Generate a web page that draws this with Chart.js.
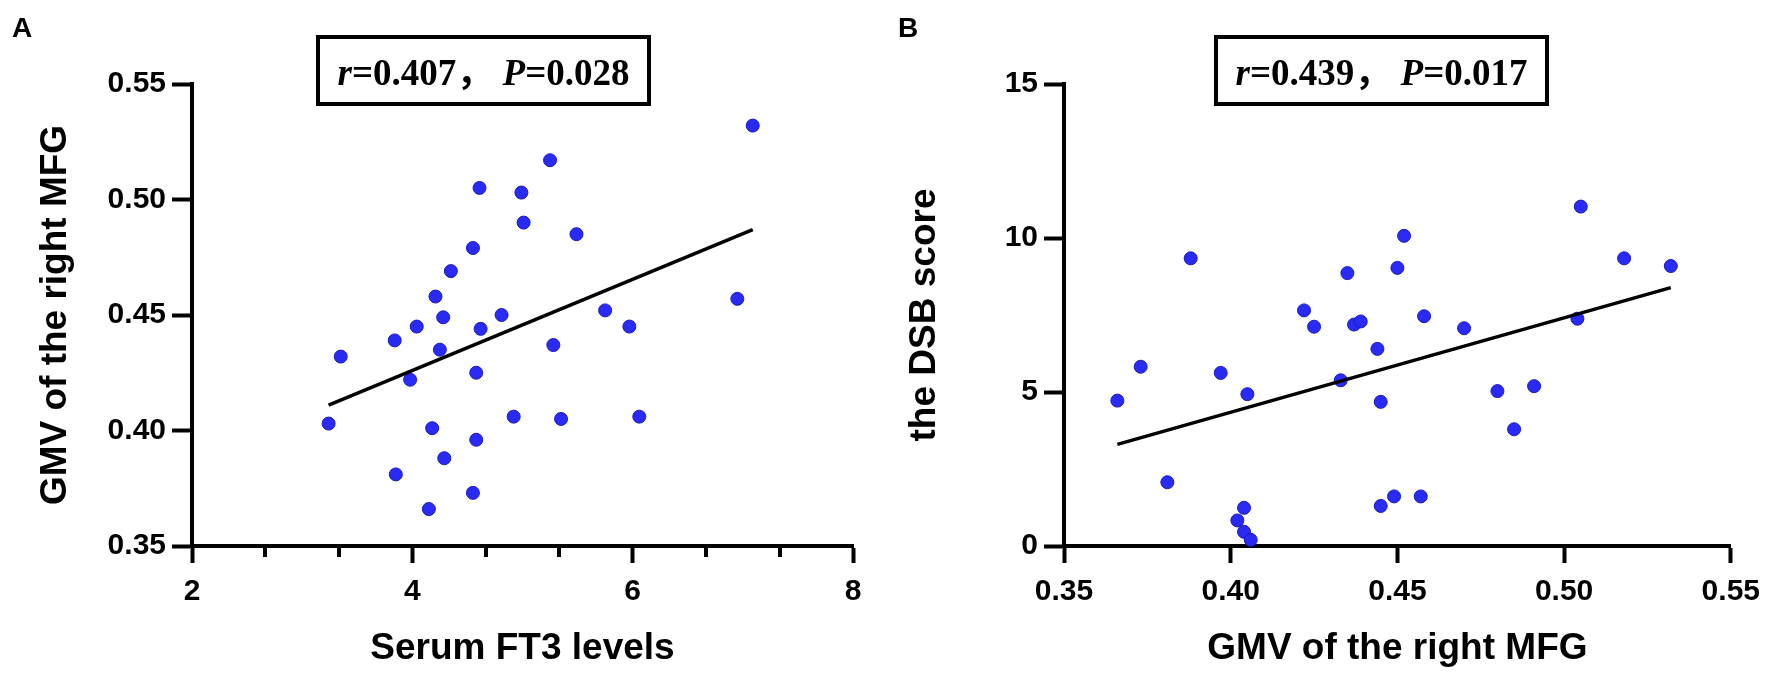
<!DOCTYPE html>
<html><head><meta charset="utf-8">
<script src="https://cdn.jsdelivr.net/npm/chart.js@4.4.1/dist/chart.umd.min.js"></script>
<style>
html,body{margin:0;padding:0;background:#fff;width:1775px;height:679px;overflow:hidden;}
canvas{position:absolute;top:0;}
#ca{left:0px}
#cb{left:880px}
</style></head><body>
<canvas id="ca" width="873" height="679"></canvas>
<canvas id="cb" width="891" height="679"></canvas>
<script>
// ---------- Panel A data ----------
const ft3Levels = [3.24,3.35,3.84,3.85,3.98,4.04,4.18,4.15,4.21,4.28,4.25,4.29,4.35,4.55,4.55,4.58,4.58,4.61,4.62,4.81,4.92,4.99,5.01,5.25,5.28,5.35,5.49,5.75,5.97,6.06,6.95,7.09];
const gmvRightMFG_A = [0.403,0.432,0.439,0.381,0.422,0.445,0.401,0.366,0.458,0.449,0.435,0.388,0.469,0.479,0.373,0.425,0.396,0.505,0.444,0.450,0.406,0.503,0.490,0.517,0.437,0.405,0.485,0.452,0.445,0.406,0.457,0.532];
const fitA_x = [3.24, 7.09];
const fitA_y = [0.411, 0.487];
const xTicksA = [2, 4, 6, 8];
const xMinorTicksA = [2.667, 3.333, 4.667, 5.333, 6.667, 7.333];
const yTicksA = [0.35, 0.40, 0.45, 0.50, 0.55];

// ---------- Panel B data ----------
const gmvRightMFG_B = [0.366,0.373,0.381,0.388,0.397,0.405,0.404,0.402,0.404,0.406,0.422,0.425,0.433,0.435,0.437,0.439,0.444,0.445,0.445,0.449,0.450,0.452,0.457,0.458,0.470,0.480,0.485,0.491,0.504,0.505,0.518,0.532];
const dsbScore = [4.72,5.82,2.07,9.34,5.62,4.93,1.24,0.83,0.46,0.20,7.65,7.12,5.38,8.86,7.19,7.29,6.40,1.30,4.68,1.61,9.03,10.07,1.61,7.46,7.07,5.03,3.79,5.19,7.38,11.02,9.34,9.09];
const fitB_x = [0.366, 0.532];
const fitB_y = [3.30, 8.39];
const xTicksB = [0.35, 0.40, 0.45, 0.50, 0.55];
const yTicksB = [0, 5, 10, 15];

const statA = {r: '0.407', p: '0.028'};
const statB = {r: '0.439', p: '0.017'};

const SANS = '"Liberation Sans", Arial, Helvetica, sans-serif';
const SERIF = '"Liberation Serif", "Times New Roman", "Noto Sans CJK SC", serif';

const pts = (xs, ys) => xs.map((x, i) => ({x, y: ys[i]}));

const decoPlugin = {
  id: 'deco',
  afterDraw(chart, args, o) {
    const ctx = chart.ctx;
    const xs = chart.scales.x, area = chart.chartArea;
    ctx.save();
    if (o.minor) {
      ctx.strokeStyle = '#000'; ctx.lineWidth = 4;
      o.minor.forEach(v => {
        const px = Math.round(xs.getPixelForValue(v));
        ctx.beginPath(); ctx.moveTo(px, area.bottom); ctx.lineTo(px, area.bottom + 11); ctx.stroke();
      });
    }
    ctx.fillStyle = '#000';
    ctx.font = 'bold 28px ' + SANS;
    ctx.textBaseline = 'alphabetic'; ctx.textAlign = 'left';
    ctx.fillText(o.letter, o.letterX, o.letterY);
    const b = o.box;
    ctx.fillStyle = '#fff';
    ctx.fillRect(b.x, b.y, b.w, b.h);
    ctx.strokeStyle = '#000'; ctx.lineWidth = 4;
    ctx.strokeRect(b.x, b.y, b.w, b.h);
    const fs = 37;
    const segs = [
      {t: 'r', it: true}, {t: '=' + o.stat.r + '\uFF0C', it: false},
      {t: ' ', it: false}, {t: 'P', it: true}, {t: '=' + o.stat.p, it: false}
    ];
    let total = 0;
    segs.forEach(s => { ctx.font = (s.it ? 'italic ' : '') + 'bold ' + fs + 'px ' + SERIF; s.w = ctx.measureText(s.t).width; total += s.w; });
    let x = b.x + (b.w - total) / 2;
    const y = b.y + b.h / 2 + fs * 0.39;
    ctx.fillStyle = '#000';
    segs.forEach(s => { ctx.font = (s.it ? 'italic ' : '') + 'bold ' + fs + 'px ' + SERIF; ctx.fillText(s.t, x, y); x += s.w; });
    ctx.restore();
  }
};

function makeChart(id, cfg) {
  return new Chart(document.getElementById(id), {
    type: 'scatter',
    data: {
      datasets: [
        {type: 'line', data: pts(cfg.fitX, cfg.fitY), borderColor: '#000', borderWidth: 3.5, pointRadius: 0, fill: false, order: 0, clip: false},
        {data: pts(cfg.xs, cfg.ys), backgroundColor: '#2a2af5', borderColor: '#1a1ac0', borderWidth: 1, pointRadius: 6.5, order: 1, clip: false}
      ]
    },
    options: {
      responsive: false, animation: false, devicePixelRatio: 1,
      layout: {padding: {left: 0, right: cfg.padRight, top: 84, bottom: 0}},
      plugins: {legend: {display: false}, tooltip: {enabled: false}, deco: cfg.deco},
      scales: {
        x: {
          type: 'linear', min: cfg.xMin, max: cfg.xMax,
          afterBuildTicks: s => { s.ticks = cfg.xTicks.map(v => ({value: v})); },
          afterFit: s => { s.height = 133; },
          border: {display: true, color: '#000', width: 4},
          grid: {display: true, drawOnChartArea: false, drawTicks: true, tickColor: '#000', tickWidth: 4, tickLength: 17},
          ticks: {color: '#000', font: {family: SANS, size: 30, weight: 'bold'}, padding: 11, maxRotation: 0, autoSkip: false, callback: cfg.xFmt},
          title: {display: true, text: cfg.xTitle, color: '#000', font: {family: SANS, size: 37, weight: 'bold'}, padding: {top: 0, bottom: 8}}
        },
        y: {
          type: 'linear', min: cfg.yMin, max: cfg.yMax,
          afterBuildTicks: s => { s.ticks = cfg.yTicks.map(v => ({value: v})); },
          afterFit: s => { s.width = cfg.yWidth; },
          border: {display: true, color: '#000', width: 4},
          grid: {display: true, drawOnChartArea: false, drawTicks: true, tickColor: '#000', tickWidth: 4, tickLength: 20},
          ticks: {color: '#000', font: {family: SANS, size: 30, weight: 'bold'}, padding: 6, autoSkip: false, callback: cfg.yFmt},
          title: {display: true, text: cfg.yTitle, color: '#000', font: {family: SANS, size: 37, weight: 'bold'}, padding: {top: cfg.yTitlePad, bottom: 0}}
        }
      }
    },
    plugins: [decoPlugin]
  });
}

makeChart('ca', {
  xs: ft3Levels, ys: gmvRightMFG_A, fitX: fitA_x, fitY: fitA_y,
  xMin: 2, xMax: 8, yMin: 0.35, yMax: 0.55, xTicks: xTicksA, yTicks: yTicksA,
  xFmt: v => String(Math.round(v)), yFmt: v => v.toFixed(2),
  xTitle: 'Serum FT3 levels', yTitle: 'GMV of the right MFG',
  yWidth: 192, yTitlePad: 34, padRight: 20,
  deco: {letter: 'A', letterX: 12, letterY: 37, minor: xMinorTicksA, stat: statA, box: {x: 318, y: 37, w: 331, h: 67}}
});

makeChart('cb', {
  xs: gmvRightMFG_B, ys: dsbScore, fitX: fitB_x, fitY: fitB_y,
  xMin: 0.35, xMax: 0.55, yMin: 0, yMax: 15, xTicks: xTicksB, yTicks: yTicksB,
  xFmt: v => v.toFixed(2), yFmt: v => String(Math.round(v)),
  xTitle: 'GMV of the right MFG', yTitle: 'the DSB score',
  yWidth: 184, yTitlePad: 23, padRight: 40,
  deco: {letter: 'B', letterX: 18, letterY: 37, minor: null, stat: statB, box: {x: 336, y: 37, w: 331, h: 67}}
});
</script>
</body></html>
